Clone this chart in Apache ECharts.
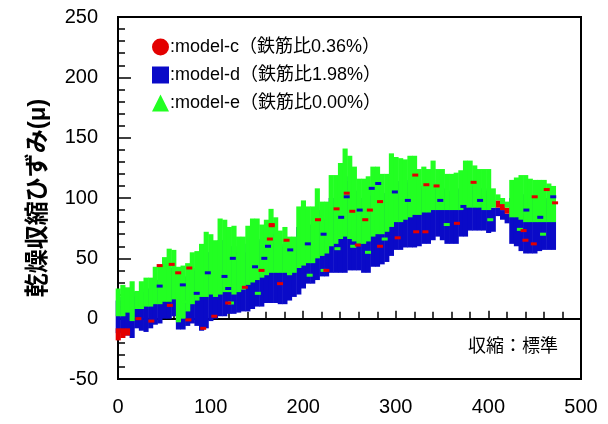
<!DOCTYPE html>
<html><head><meta charset="utf-8">
<script src="https://cdn.jsdelivr.net/npm/echarts@6/dist/echarts.min.js"></script>
<style>html,body{margin:0;padding:0;background:#fff}#c{width:608px;height:424px}</style>
</head><body><div id="c"></div>
<script>
const days = [0,5,10,15,20,25,30,35,40,45,
50,55,60,65,70,75,80,85,90,95,
100,105,110,115,120,125,130,135,140,145,
150,155,160,165,170,175,180,185,190,195,
200,205,210,215,220,225,230,235,240,245,
250,255,260,265,270,275,280,285,290,295,
300,305,310,315,320,325,330,335,340,345,
350,355,360,365,370,375,380,385,390,395,
400,405,410,415,420,425,430,435,440,445,
450,455,460,465,470];
// model-e (green) visible band
const greenHi = [25,28,26,31,23,31,34,34,43,43,
51,58,57,43,44,46,55,56,62,72,
70,65,83,82,76,77,68,68,77,83,
83,78,82,91,84,73,76,68,68,93,
98,93,93,108,97,97,119,119,129,141,
135,126,116,116,118,126,126,120,120,137,
134,133,132,135,135,124,126,124,131,124,
124,120,120,121,123,131,131,127,124,124,
124,108,103,100,97,115,117,119,119,116,
115,115,115,112,110];
const greenLo = [2,2,5,-2,8,8,10,10,12,12,
14,14,16,-3,0,6,12,15,18,18,
20,18,20,22,22,20,22,24,28,30,
32,34,36,38,38,38,38,36,38,42,
44,46,46,50,52,54,60,62,66,68,
66,64,62,62,64,68,70,70,72,76,
80,80,82,84,86,86,88,88,90,90,
90,90,90,90,90,92,92,92,92,90,
90,92,98,95,92,84,84,82,80,80,
80,80,80,80,80];
// model-d (blue) band
const blueLo = [-12,-12,-14,-16,-8,-10,-11,-8,-5,-4,
0,0,2,-9,-9,-6,-4,-6,-10,-8,
-2,0,2,2,4,4,5,6,6,8,
10,10,13,13,13,12,12,15,18,20,
25,29,29,32,35,35,38,38,38,38,
40,40,40,38,38,43,43,45,47,52,
57,57,59,59,59,60,62,62,65,68,
65,62,62,62,68,68,73,73,73,73,
71,72,85,82,79,62,60,56,54,54,
54,56,57,57,57];
const blueHi = [15,18,18,22,18,22,25,25,32,32,
38,42,42,32,32,35,40,42,48,55,
55,52,65,65,60,60,55,55,62,66,
66,64,68,75,70,60,62,56,56,76,
80,78,78,90,82,82,100,100,108,118,
114,106,100,100,102,108,108,104,104,116,
114,114,113,115,115,108,110,108,112,108,
108,106,106,107,108,113,113,110,108,108,
106,92,92,90,87,100,102,103,103,101,
100,100,100,98,97];
// model-c (red) where it shows outside the others
const redDays = [0,5,10,410,415,420];
const redLo = [-18,-16,-14,92,90,87];
const redHi = [-8,-8,-8,98,95,92];
const redSpecks = [[45,44],[58,45],[65,38],[77,42],[166,77],[164,66],[155,40],[104,2],[76,-1],[92,-8],[22,0],[36,-2],[56,11],[137,26],[119,13],
[247,104],[236,91],[253,89],[283,97],[272,90],[267,82],[216,82],[182,65],[322,72],[302,67],[283,60],[259,61],[225,40],[175,29],[321,119],[166,78],
[344,110],[384,113],[332,72],[366,79],[333,111],[450,101],[438,73],[449,62],[463,107],[440,65],[472,96]];
const blueSpecks = [[70,28],[45,27],[115,35],[119,25],[148,43],[162,60],[158,50],[124,50],[97,38],[85,21],
[247,101],[281,112],[299,105],[313,98],[274,108],[241,84],[222,70],[205,62],[186,57],[261,90],
[348,98],[391,98],[470,101],[441,90],[456,84],[373,93]];
const greenSpecks = [[237,58],[254,60],[270,55],[207,36],[222,40],[288,66],[72,14],[122,13],[151,21],[355,78],[402,82],[459,70],[434,74]];

const names = [':model-c（鉄筋比0.36%）', ':model-d（鉄筋比1.98%）', ':model-e（鉄筋比0.00%）'];
const RED = '#e30000', BLUE = '#0a0ac8', GREEN = '#22ff22';
const FONT = '"Liberation Sans", "Noto Sans CJK JP", sans-serif';

function band(xs, lo, hi){ return xs.map((d,i)=>[d, lo[i], hi[i]]); }
function bandRender(params, api){
  const x = api.value(0), lo = api.value(1), hi = api.value(2);
  const p1 = api.coord([x - 2.5, hi]);
  const p2 = api.coord([x + 2.5, lo]);
  return {type:'rect', shape:{x:p1[0], y:p1[1], width:p2[0]-p1[0]+0.5, height:p2[1]-p1[1]}, style:{fill: api.visual('color')}};
}
function speckRender(params, api){
  const p = api.coord([api.value(0), api.value(1)]);
  return {type:'rect', shape:{x:p[0]-3, y:p[1]-1.5, width:6, height:3}, style:{fill: api.visual('color')}};
}

const chart = echarts.init(document.getElementById('c'), null, {renderer:'canvas'});
chart.setOption({
  animation:false,
  textStyle:{fontFamily:FONT},
  grid:{left:118, right:27, top:17, bottom:45, show:true, borderColor:'#000', borderWidth:2},
  legend:{
    orient:'vertical', left:152, top:38, padding:0, itemWidth:17, itemHeight:17, itemGap:10,
    textStyle:{fontSize:18, color:'#000', fontFamily:FONT, padding:[0,0,0,-4]},
    data:[{name:names[0], icon:'circle', itemStyle:{color:RED}},
          {name:names[1], icon:'rect', itemStyle:{color:BLUE}},
          {name:names[2], icon:'triangle', itemStyle:{color:GREEN}}]
  },
  xAxis:{type:'value', min:0, max:500, interval:100,
    axisLine:{lineStyle:{color:'#000', width:2}},
    axisTick:{inside:true, length:8, lineStyle:{color:'#000', width:1.5}},
    minorTick:{show:true, splitNumber:5, length:7, lineStyle:{color:'#000', width:1.5}},
    splitLine:{show:false},
    axisLabel:{fontSize:20, color:'#000', margin:18, fontFamily:FONT}},
  yAxis:{type:'value', min:-50, max:250, interval:50,
    name:'乾燥収縮ひずみ(μ)', nameLocation:'middle', nameGap:68, nameRotate:90,
    nameTextStyle:{fontSize:24, fontWeight:'bold', color:'#000', fontFamily:FONT},
    axisLine:{lineStyle:{color:'#000', width:2}},
    axisTick:{inside:true, length:13, lineStyle:{color:'#000', width:1.5}},
    minorTick:{show:true, splitNumber:5, length:7, lineStyle:{color:'#000', width:1.5}},
    splitLine:{show:false},
    axisLabel:{fontSize:20, color:'#000', margin:20, fontFamily:FONT}},
  graphic:[{type:'text', left:468, top:338, style:{text:'収縮：標準', fontSize:18, fill:'#000', fontFamily:FONT}}],
  series:[
    {type:'custom', name:names[1], data:band(days, blueLo, blueHi), renderItem:bandRender, itemStyle:{color:BLUE}, z:2},
    {type:'custom', name:names[0], data:band(redDays, redLo, redHi), renderItem:bandRender, itemStyle:{color:RED}, z:3},
    {type:'custom', name:names[2], data:band(days, greenLo, greenHi), renderItem:bandRender, itemStyle:{color:GREEN}, z:4},
    {type:'custom', name:names[2], data:greenSpecks, renderItem:speckRender, itemStyle:{color:GREEN}, z:5},
    {type:'custom', name:names[1], data:blueSpecks, renderItem:speckRender, itemStyle:{color:BLUE}, z:5},
    {type:'custom', name:names[0], data:redSpecks, renderItem:speckRender, itemStyle:{color:RED}, z:6}
  ]
});
</script></body></html>
